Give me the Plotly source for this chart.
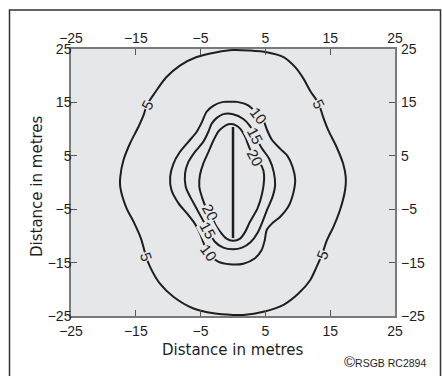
import plotly.graph_objects as go

# Field-strength contours around a horizontal dipole (plan view, metres)
c5_x = [0, -2.5, -5.6, -8.2, -10.3, -12.0, -13.3, -13.8, -14.6, -15.9, -16.9, -17.4, -17.4,
        -16.5, -15.2, -14.2, -13.4, -12.8, -11.3, -9.2, -6.1, -3.0, 0, 1.6, 4.7, 7.8, 10.1,
        11.9, 12.9, 13.7, 14.5, 15.5, 16.5, 17.3, 17.4, 17.0, 16.0, 14.7, 13.9, 13.2, 11.9,
        10.9, 9.6, 7.8, 5.2, 2.6, 0]
c5_y = [24.8, 24.4, 23.5, 21.9, 19.7, 16.9, 14.5, 12.6, 10.4, 7.3, 4.2, 1.0, -0.8,
        -4.6, -7.7, -10.5, -13.9, -15.8, -18.9, -21.4, -23.6, -24.5, -24.8, -24.8, -24.2,
        -22.9, -20.8, -18.3, -15.8, -13.6, -10.8, -8.3, -5.2, -1.4, 1.0, 3.5, 6.6, 9.8,
        12.3, 14.8, 17.2, 19.4, 21.6, 23.5, 24.4, 24.7, 24.8]

c10_x = [0, -1.5, -3.0, -4.1, -4.8, -5.6, -6.9, -8.2, -9.2, -9.7, -9.5, -8.4, -7.1, -5.9,
         -5.1, -4.6, -3.8, -2.3, -0.5, 1.6, 3.4, 4.4, 4.9, 5.2, 6.0, 7.3, 8.5, 9.3, 9.6,
         9.2, 8.4, 7.3, 6.0, 5.2, 4.7, 3.9, 2.4, 0.6, 0]
c10_y = [15.1, 15.1, 14.4, 13.2, 11.3, 9.5, 7.6, 5.7, 3.5, 1.0, -1.4, -3.9, -5.8, -7.7,
         -9.5, -11.1, -13.3, -14.8, -15.3, -15.2, -14.2, -12.7, -10.8, -8.9, -7.7, -6.4,
         -4.6, -2.0, 0.5, 2.9, 5.0, 6.3, 8.0, 10.0, 11.6, 12.6, 14.4, 15.1, 15.1]

c15_x = [0, -1.5, -2.5, -3.3, -3.8, -4.6, -5.9, -6.9, -7.4, -7.3, -6.6, -5.6, -4.8, -3.8,
         -2.8, -1.5, 0, 1.4, 2.7, 3.8, 4.6, 5.3, 6.1, 6.5, 6.3, 5.6, 4.4, 3.4, 2.6, 1.6, 0]
c15_y = [12.8, 12.8, 12.1, 11.0, 9.5, 7.6, 5.7, 3.8, 1.7, -0.8, -2.7, -4.9, -6.7, -8.9,
         -11.1, -12.2, -12.5, -12.2, -11.2, -9.4, -7.2, -5.0, -2.7, -0.5, 1.9, 4.4, 6.5,
         8.8, 10.6, 11.9, 12.8]

c20_x = [0, -0.7, -1.5, -2.3, -3.0, -3.8, -4.6, -5.1, -5.2, -4.8, -4.3, -3.5, -2.8, -2.0,
         -1.0, 0, 1.1, 1.9, 2.6, 3.8, 4.5, 4.8, 4.7, 4.1, 3.4, 2.6, 1.9, 1.1, 0.3, 0]
c20_y = [10.9, 10.9, 10.4, 9.5, 7.9, 5.7, 3.5, 1.4, -0.8, -2.7, -4.3, -5.5, -7.7, -9.2,
         -10.5, -10.9, -10.5, -9.2, -7.4, -4.8, -2.0, 0.5, 2.2, 3.8, 4.8, 6.3, 8.5, 10.1,
         10.8, 10.9]

contours = [(5, c5_x, c5_y), (10, c10_x, c10_y), (15, c15_x, c15_y), (20, c20_x, c20_y)]

# Dipole element
dipole_x = [0, 0]
dipole_y = [-10.4, 10.4]

# Axis ticks
tick_vals = [-25, -15, -5, 5, 15, 25]
tick_text = ["\u221225", "\u221215", "\u22125", "5", "15", "25"]

# In-line contour labels: level, position on the curve, rotation
label_level = [5, 5, 5, 5, 10, 15, 20, 20, 15, 10]
label_x = [-13.3, 13.2, -13.4, 13.7, 3.9, 3.4, 3.4, -3.5, -3.8, -3.8]
label_y = [14.5, 14.8, -13.9, -13.6, 12.5, 8.8, 4.7, -5.6, -8.9, -13.2]
label_angle = [-63, 63, 72, -69, 52, 62, 62, 62, 61, 53]

W, H = 442, 376
ML, MR, MT, MB = 71, 47, 49, 60
PW, PH = W - ML - MR, H - MT - MB
BG = "#e6e7e9"
INK = "#1e1e1e"
TICK_FONT = dict(family="Liberation Sans Narrow, Liberation Sans, Arial", size=14, color=INK)
TITLE_FONT = dict(family="DejaVu Sans, Arial", size=15, color=INK)


def px_x(p):
    return (p - ML) / PW


def px_y(p):
    return (H - MB - p) / PH


fig = go.Figure()
for lvl, xs, ys in contours:
    fig.add_trace(go.Scatter(x=xs, y=ys, mode="lines", name=str(lvl),
                             line=dict(color=INK, width=2, shape="spline", smoothing=0.8),
                             hoverinfo="skip", showlegend=False))
fig.add_trace(go.Scatter(x=dipole_x, y=dipole_y, mode="lines",
                         line=dict(color=INK, width=2.5), hoverinfo="skip", showlegend=False))
# carrier for the label-only top/right axes
fig.add_trace(go.Scatter(x=[-25, 25], y=[-25, 25], xaxis="x2", yaxis="y2", mode="markers",
                         marker=dict(opacity=0), hoverinfo="skip", showlegend=False))

for lvl, lx, ly, ang in zip(label_level, label_x, label_y, label_angle):
    fig.add_annotation(x=lx, y=ly, text=str(lvl), showarrow=False, textangle=ang,
                       font=dict(family=TICK_FONT["family"], size=15, color=INK),
                       bgcolor=BG, borderpad=0)

axis_common = dict(range=[-25, 25], tickvals=tick_vals, ticktext=tick_text,
                   showgrid=False, zeroline=False, tickfont=TICK_FONT, fixedrange=True)
inner_axis = dict(showline=True, linecolor="#7a7a7a", linewidth=1.5, mirror="ticks",
                  ticks="inside", ticklen=6, tickwidth=1.3, tickcolor="#555")

fig.update_layout(
    width=W, height=H,
    margin=dict(l=ML, r=MR, t=MT, b=MB, pad=0),
    paper_bgcolor="white", plot_bgcolor=BG,
    xaxis=dict(**axis_common, **inner_axis, ticklabelstandoff=1),
    yaxis=dict(**axis_common, **inner_axis, ticklabelstandoff=-5),
    xaxis2=dict(**axis_common, overlaying="x", side="top", showline=False, ticks="",
                ticklabelstandoff=2),
    yaxis2=dict(**axis_common, overlaying="y", side="right", showline=False, ticks="",
                ticklabelstandoff=5),
)

# axis titles and credit
fig.add_annotation(xref="paper", yref="paper", x=0.5, y=px_y(350), text="Distance in metres",
                   showarrow=False, font=TITLE_FONT, xanchor="center", yanchor="middle")
fig.add_annotation(xref="paper", yref="paper", x=px_x(37), y=px_y(186), text="Distance in metres",
                   showarrow=False, font=TITLE_FONT, textangle=-90,
                   xanchor="center", yanchor="middle")
fig.add_annotation(xref="paper", yref="paper", x=px_x(428), y=px_y(361),
                   text="<span style='font-size:15px'>\u00a9</span>RSGB RC2894",
                   showarrow=False, xanchor="right", yanchor="middle",
                   font=dict(family="Liberation Sans, Arial", size=10.5, color=INK))

# outer frame
fig.add_shape(type="rect", xref="paper", yref="paper",
              x0=px_x(9.5), x1=px_x(440.5), y0=px_y(390), y1=px_y(10),
              line=dict(color="#333", width=1.5), fillcolor="rgba(0,0,0,0)", layer="below")

fig.write_html("out.html")
